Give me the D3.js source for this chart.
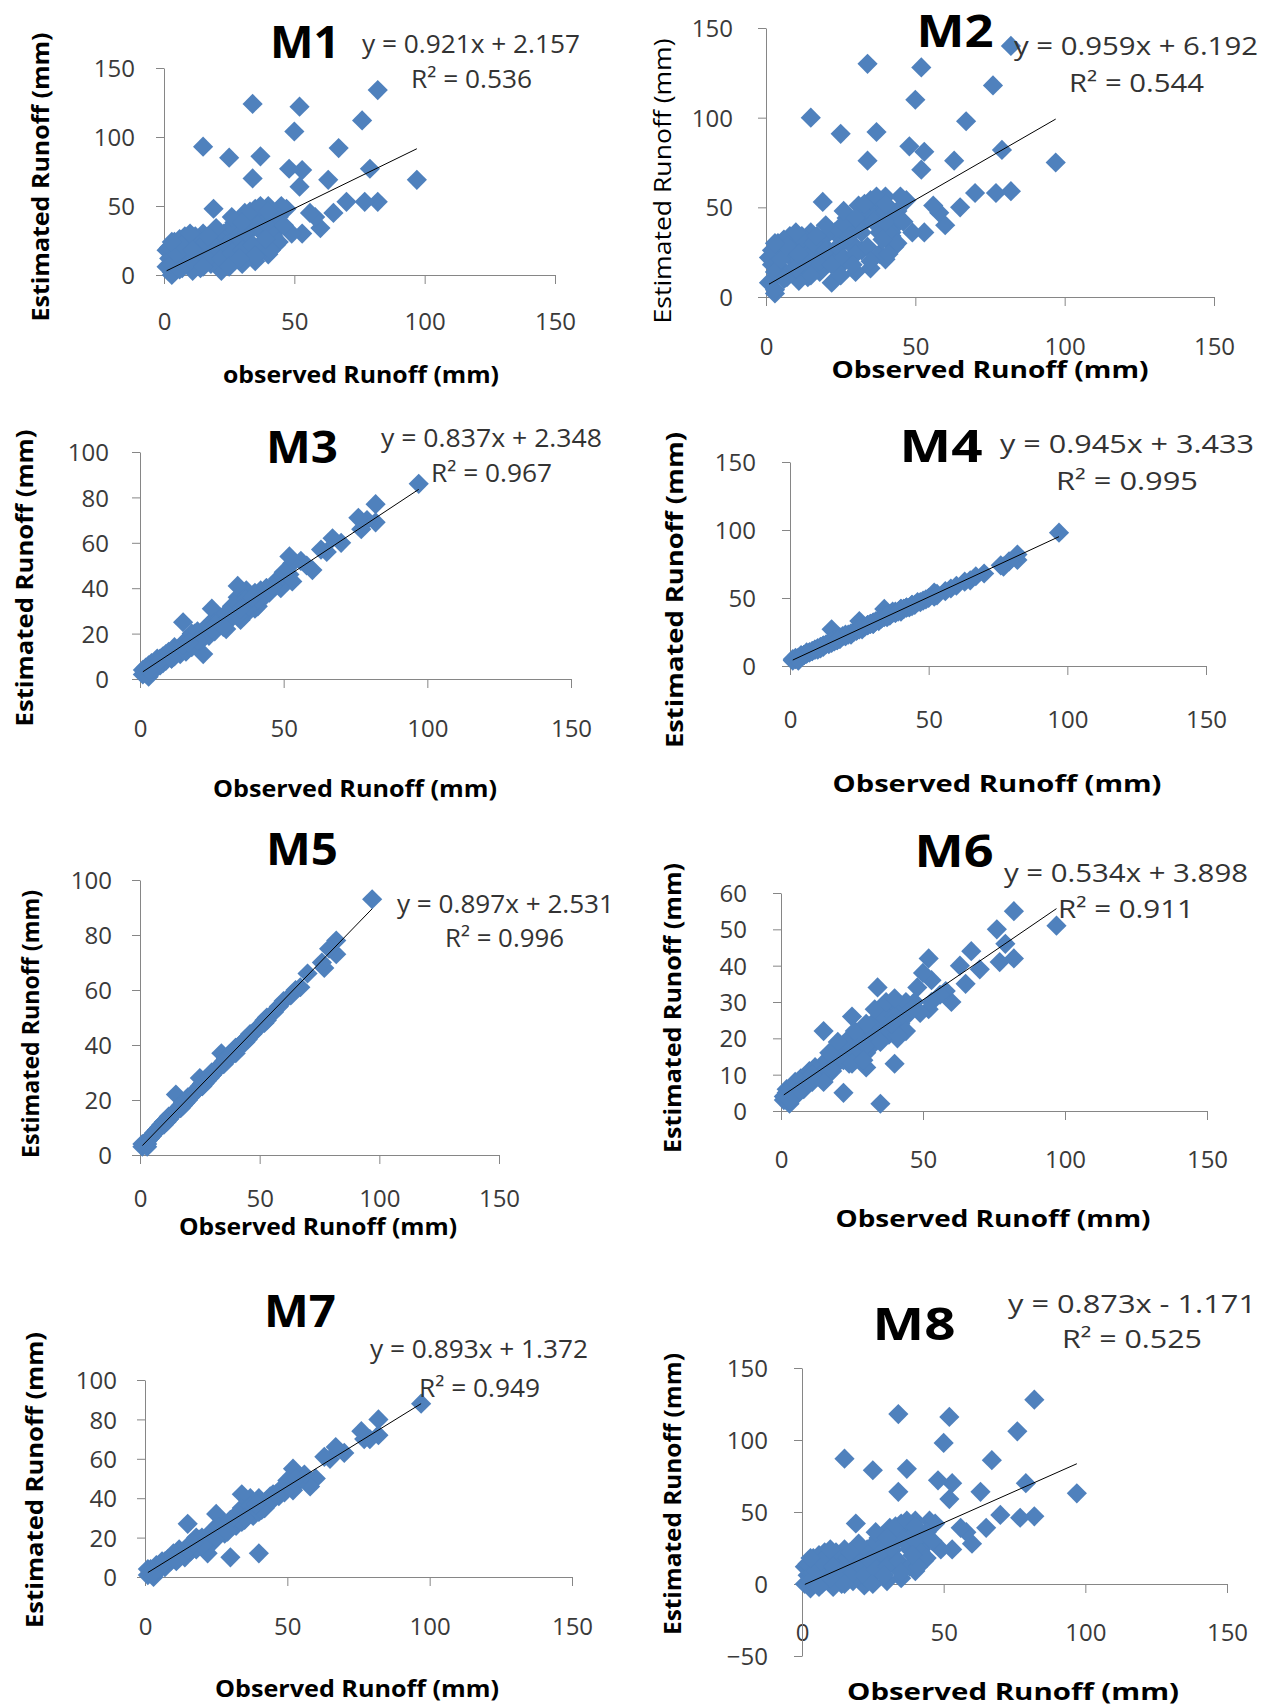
<!DOCTYPE html>
<html>
<head>
<meta charset="utf-8">
<script src="https://cdn.jsdelivr.net/npm/d3@7"></script>
<style>
    body { margin: 0; background: #fff; }
    svg text { font-family: 'Open Sans', 'Noto Sans', sans-serif; }
</style>
</head>
<body>
<div class="chart-container"></div>
<script>
// observed runoff (mm), shared by all eight models
const observed = [97, 82, 82, 79, 77, 76, 70, 67, 65, 63, 60, 58, 56, 53, 52, 52, 50, 48, 53, 49,
    47, 45, 43, 42, 40, 40, 38, 37, 36, 35, 34, 34, 33, 32, 31, 30, 29, 28, 27, 26,
    25, 24, 23, 22, 21, 20, 19, 18, 17, 15, 15, 14, 13, 12, 11, 10, 9, 8, 7, 6,
    5, 4, 3, 2, 1, 1, 3, 38, 44, 26, 35, 41, 30, 16, 8, 5,
    2, 4, 6, 9, 12, 18, 24, 28, 32, 36, 40, 42,
    3, 5, 7, 10, 12, 14, 16, 18, 20, 22, 24, 26, 28, 30, 32, 34, 36, 38, 40, 42,
    44, 33, 37, 40, 44, 26, 20, 10, 6, 15, 25, 35, 41, 30, 46, 29, 39, 17, 11, 3];

// estimated runoff (mm) per model, same order as observed
const estM1 = [69, 134, 53, 77, 53, 112, 53, 92, 45, 69, 34, 42, 45, 76, 122, 64, 104, 77, 30, 30,
    48, 50, 22, 40, 50, 15, 30, 86, 45, 10, 124, 70, 40, 20, 45, 8, 30, 15, 38, 25,
    85, 10, 30, 3, 20, 28, 48, 8, 18, 93, 30, 5, 22, 12, 3, 25, 15, 28, 5, 18,
    10, 24, 2, 12, 6, 18, 0, 40, 35, 35, 48, 25, 22, 12, 8, 20,
    20, 14, 26, 22, 28, 26, 18, 24, 34, 38, 42, 30,
    8, 15, 22, 10, 26, 16, 24, 14, 20, 12, 22, 16, 28, 18, 30, 22, 36, 18, 36, 28,
    42, 46, 50, 46, 24, 42, 34, 30, 4, 6, 6, 14, 18, 38, 36, 12, 26, 28, 18, 24];
const estM2 = [75, 140, 59, 82, 58, 118, 58, 98, 50, 76, 40, 47, 51, 81, 128, 71, 110, 84, 36, 36,
    54, 56, 28, 46, 56, 21, 36, 92, 51, 16, 130, 76, 46, 26, 51, 14, 36, 21, 44, 31,
    91, 16, 36, 8, 26, 34, 53, 14, 24, 100, 36, 11, 28, 18, 9, 31, 21, 34, 11, 24,
    16, 30, 2, 18, 8, 22, 4, 46, 41, 41, 54, 31, 28, 18, 14, 26,
    26, 20, 32, 28, 34, 32, 24, 30, 40, 44, 48, 36,
    14, 21, 28, 16, 32, 22, 30, 20, 26, 18, 28, 22, 34, 24, 36, 28, 42, 24, 42, 34,
    48, 52, 56, 52, 30, 48, 40, 36, 10, 12, 12, 20, 24, 44, 42, 18, 32, 34, 24, 30];
const estM3 = [86, 77, 69, 70, 66, 71, 60, 62, 56, 57, 48, 50, 52, 51, 54, 46, 47, 44, 43, 40,
    42, 38, 36, 35, 36, 31, 30, 39, 33, 26, 41, 36, 30, 27, 29, 22, 26, 24, 25, 22,
    31, 19, 21, 11, 17, 18, 20, 15, 16, 25, 14, 11, 13, 10, 9, 11, 8, 10, 6, 8,
    5, 6, 3, 4, 2, 4, 1, 35, 40, 25, 34, 32, 27, 12, 7, 4,
    5, 7, 9, 11, 13, 20, 24, 26, 32, 35, 38, 39,
    6, 5, 9, 10, 14, 12, 17, 14, 21, 18, 24, 21, 27, 26, 31, 28, 34, 32, 37, 36,
    40, 33, 35, 34, 38, 24, 17, 12, 7, 15, 22, 31, 35, 29, 41, 23, 36, 16, 9, 4];
const estM4 = [98, 82, 78, 77, 73, 74, 68, 66, 63, 62, 59, 57, 55, 53, 54, 51, 50, 48, 52, 49,
    47, 45, 43, 43, 41, 40, 39, 40, 37, 36, 42, 37, 35, 33, 33, 31, 31, 30, 29, 28,
    33, 26, 25, 23, 23, 22, 22, 20, 19, 27, 17, 16, 16, 14, 13, 13, 12, 11, 10, 9,
    8, 7, 6, 5, 4, 5, 4, 40, 45, 28, 37, 42, 32, 18, 11, 8,
    6, 8, 10, 12, 15, 21, 27, 30, 34, 38, 42, 43,
    6, 8, 10, 13, 15, 17, 19, 20, 23, 24, 26, 28, 30, 32, 34, 36, 38, 39, 41, 43,
    45, 35, 39, 42, 44, 27, 22, 12, 9, 18, 27, 37, 42, 31, 47, 31, 40, 19, 14, 5];
const estM5 = [93, 78, 73, 75, 68, 70, 66, 61, 60, 58, 56, 54, 52, 50, 49, 48, 47, 45, 49, 46,
    44, 42, 41, 40, 38, 37, 36, 35, 35, 33, 37, 33, 32, 31, 30, 29, 28, 27, 26, 25,
    28, 24, 23, 22, 21, 20, 19, 18, 17, 22, 16, 15, 14, 13, 12, 12, 11, 10, 9, 8,
    7, 6, 5, 4, 3, 4, 3, 37, 42, 26, 34, 39, 30, 17, 10, 7,
    4, 6, 8, 11, 14, 19, 24, 28, 31, 35, 39, 40,
    5, 7, 9, 11, 13, 15, 17, 19, 21, 22, 24, 26, 28, 29, 31, 33, 35, 37, 38, 40,
    42, 32, 36, 39, 41, 25, 20, 12, 8, 16, 25, 34, 39, 30, 44, 28, 37, 18, 12, 4];
const estM6 = [51, 55, 42, 46, 41, 50, 39, 44, 35, 40, 30, 33, 32, 36, 42, 28, 38, 34, 30, 27,
    30, 28, 22, 25, 27, 13, 21, 29, 26, 2, 34, 24, 22, 18, 23, 12, 19, 16, 20, 15,
    26, 13, 16, 5, 14, 15, 17, 11, 13, 22, 12, 9, 11, 10, 8, 10, 8, 9, 6, 7,
    5, 6, 4, 5, 3, 4, 2, 25, 26, 18, 22, 20, 16, 10, 6, 4,
    6, 7, 8, 9, 12, 16, 20, 21, 24, 27, 25, 29,
    6, 8, 9, 11, 12, 10, 14, 12, 15, 14, 18, 17, 20, 18, 22, 20, 26, 22, 26, 24,
    30, 28, 30, 31, 22, 22, 19, 8, 5, 8, 13, 19, 21, 24, 28, 14, 24, 16, 10, 3];
const estM7 = [88, 80, 72, 70, 70, 74, 63, 66, 60, 61, 50, 46, 52, 47, 55, 44, 49, 45, 50, 43,
    41, 42, 37, 35, 38, 12, 33, 40, 33, 29, 42, 35, 28, 26, 29, 10, 26, 22, 25, 22,
    32, 18, 20, 12, 17, 18, 19, 14, 15, 27, 13, 10, 12, 10, 8, 11, 8, 9, 5, 7,
    4, 5, 2, 3, 1, 4, 0, 34, 40, 24, 32, 37, 26, 13, 7, 4,
    4, 6, 8, 10, 14, 20, 24, 27, 31, 35, 40, 38,
    4, 6, 8, 10, 13, 12, 17, 15, 20, 19, 23, 22, 27, 26, 30, 28, 34, 31, 37, 35,
    41, 33, 36, 33, 38, 25, 16, 12, 6, 14, 20, 30, 34, 29, 42, 23, 37, 17, 9, 2];
const estM8 = [63, 128, 47, 70, 46, 106, 48, 86, 39, 64, 28, 36, 39, 70, 116, 59, 98, 72, 24, 24,
    42, 44, 16, 34, 44, 9, 24, 80, 39, 4, 118, 64, 34, 14, 39, 2, 24, 9, 32, 19,
    79, 4, 24, -1, 14, 22, 42, 2, 12, 87, 24, 0, 16, 6, -2, 19, 9, 22, 0, 12,
    4, 18, -2, 6, 0, 12, -3, 34, 29, 29, 42, 19, 16, 6, 2, 14,
    14, 8, 20, 16, 22, 20, 12, 18, 28, 32, 36, 24,
    2, 9, 16, 4, 20, 10, 18, 8, 14, 6, 16, 10, 22, 12, 24, 16, 30, 12, 30, 22,
    36, 40, 44, 40, 18, 36, 28, 24, -2, 0, 0, 8, 12, 32, 30, 6, 20, 22, 12, 18];

const modelNames = ['M1', 'M2', 'M3', 'M4', 'M5', 'M6', 'M7', 'M8'];
const slopes = [0.921, 0.959, 0.837, 0.945, 0.897, 0.534, 0.893, 0.873];
const intercepts = [2.157, 6.192, 2.348, 3.433, 2.531, 3.898, 1.372, -1.171];
const equationLabels = ['y = 0.921x + 2.157', 'y = 0.959x + 6.192', 'y = 0.837x + 2.348', 'y = 0.945x + 3.433',
    'y = 0.897x + 2.531', 'y = 0.534x + 3.898', 'y = 0.893x + 1.372', 'y = 0.873x - 1.171'];
const rSquaredLabels = ['R² = 0.536', 'R² = 0.544', 'R² = 0.967', 'R² = 0.995',
    'R² = 0.996', 'R² = 0.911', 'R² = 0.949', 'R² = 0.525'];

// tick labels
const xTicks = [0, 50, 100, 150];
const yTicks150 = [0, 50, 100, 150];
const yTicks100 = [0, 20, 40, 60, 80, 100];
const yTicks60 = [0, 10, 20, 30, 40, 50, 60];
const yTicksM8 = [-50, 0, 50, 100, 150];

const xTitles = ['observed Runoff (mm)', 'Observed Runoff (mm)', 'Observed Runoff (mm)', 'Observed Runoff (mm)',
    'Observed Runoff (mm)', 'Observed Runoff (mm)', 'Observed Runoff (mm)', 'Observed Runoff (mm)'];
const yTitle = 'Estimated Runoff (mm)';

const estimates = [estM1, estM2, estM3, estM4, estM5, estM6, estM7, estM8];
const yTickSets = [yTicks150, yTicks150, yTicks100, yTicks150, yTicks100, yTicks60, yTicks100, yTicksM8];

// layout of each panel on the page (pixels)
const layout = [
    { x0: 164, x1: 555, yb: 275, yt: 68, title: [305, 58, 70], eq: [362, 53, 218], r2: [411, 88, 121],
      xt: [361, 383, 276], yt2: [40, 177, 289], xDy: 55, yDx: 29, yBold: true },
    { x0: 766, x1: 1214, yb: 297, yt: 28, title: [955, 47, 77], eq: [1014, 55, 244], r2: [1069, 92, 135],
      xt: [990, 378, 317], yt2: [662, 181, 285], xDy: 58, yDx: 33, yBold: false },
    { x0: 140, x1: 571, yb: 679, yt: 452, title: [302, 463, 72], eq: [381, 447, 221], r2: [431, 482, 121],
      xt: [355, 797, 284], yt2: [24, 578, 297], xDy: 58, yDx: 31, yBold: true },
    { x0: 790, x1: 1206, yb: 666, yt: 462, title: [941, 462, 83], eq: [1000, 453, 254], r2: [1056, 490, 142],
      xt: [997, 792, 329], yt2: [674, 590, 316], xDy: 62, yDx: 34, yBold: true },
    { x0: 140, x1: 499, yb: 1155, yt: 880, title: [302, 865, 72], eq: [397, 913, 217], r2: [445, 947, 119],
      xt: [318, 1235, 278], yt2: [30, 1024, 268], xDy: 52, yDx: 28, yBold: true },
    { x0: 781, x1: 1207, yb: 1111, yt: 893, title: [954, 867, 79], eq: [1004, 882, 244], r2: [1058, 918, 136],
      xt: [993, 1227, 315], yt2: [672, 1008, 290], xDy: 57, yDx: 34, yBold: true },
    { x0: 145, x1: 572, yb: 1577, yt: 1380, title: [300, 1327, 72], eq: [370, 1358, 218], r2: [419, 1397, 121],
      xt: [357, 1697, 284], yt2: [34, 1480, 296], xDy: 58, yDx: 28, yBold: true },
    { x0: 802, x1: 1227, yb: 1656, yt: 1368, title: [914, 1340, 83], eq: [1008, 1313, 248], r2: [1062, 1348, 140],
      xt: [1013, 1700, 332], yt2: [672, 1494, 282], xDy: 57, yDx: 34, yBold: true }
];

const axisColor = '#868686';
const markerColor = '#4f81bd';

const svg = d3.select('.chart-container')
    .append('svg')
    .attr('width', 1271)
    .attr('height', 1706);

function drawPanel(p, i) {
    const est = estimates[i];
    const yTicks = yTickSets[i];

    const xScale = d3.scaleLinear().domain([0, 150]).range([p.x0, p.x1]);
    const yScale = d3.scaleLinear().domain(d3.extent(yTicks)).range([p.yb, p.yt]);

    const g = svg.append('g').attr('class', 'panel');

    // axes
    const xAxis = d3.axisBottom(xScale).tickValues(xTicks).tickSizeInner(9).tickSizeOuter(0);
    const xAxisDraw = g.append('g')
        .attr('transform', `translate(0, ${yScale(0)})`)
        .call(xAxis);
    xAxisDraw.selectAll('text').attr('y', p.xDy).attr('dy', null);

    const yAxis = d3.axisLeft(yScale).tickValues(yTicks).tickSizeInner(8).tickSizeOuter(0);
    const yAxisDraw = g.append('g')
        .attr('transform', `translate(${p.x0}, 0)`)
        .call(yAxis);
    yAxisDraw.selectAll('text').attr('x', -p.yDx).attr('dy', '0.36em');

    [xAxisDraw, yAxisDraw].forEach(a => {
        a.attr('font-family', null).attr('font-size', 24);
        a.select('.domain').attr('stroke', axisColor);
        a.selectAll('.tick line').attr('stroke', axisColor);
        a.selectAll('.tick text').attr('fill', '#3a3a3a');
    });

    // points
    g.append('g')
        .selectAll('path')
        .data(observed.map((o, j) => ({ obs: o, est: est[j] })))
        .join('path')
        .attr('transform', d => `translate(${xScale(d.obs)}, ${yScale(d.est)})`)
        .attr('d', d3.symbol(d3.symbolDiamond2, 260))
        .attr('fill', markerColor);

    // linear trendline
    const xExt = d3.extent(observed);
    g.append('line')
        .attr('x1', xScale(xExt[0]))
        .attr('y1', yScale(slopes[i] * xExt[0] + intercepts[i]))
        .attr('x2', xScale(xExt[1]))
        .attr('y2', yScale(slopes[i] * xExt[1] + intercepts[i]))
        .attr('stroke', '#000')
        .attr('stroke-width', 1);

    // header + equation
    g.append('text')
        .attr('x', p.title[0]).attr('y', p.title[1])
        .attr('text-anchor', 'middle')
        .attr('font-size', 44).attr('font-weight', 'bold')
        .attr('textLength', p.title[2]).attr('lengthAdjust', 'spacingAndGlyphs')
        .text(modelNames[i]);

    g.append('text')
        .attr('x', p.eq[0]).attr('y', p.eq[1])
        .attr('font-size', 25).attr('fill', '#333')
        .attr('textLength', p.eq[2]).attr('lengthAdjust', 'spacingAndGlyphs')
        .text(equationLabels[i]);

    g.append('text')
        .attr('x', p.r2[0]).attr('y', p.r2[1])
        .attr('font-size', 25).attr('fill', '#333')
        .attr('textLength', p.r2[2]).attr('lengthAdjust', 'spacingAndGlyphs')
        .text(rSquaredLabels[i]);

    // axis titles
    g.append('text')
        .attr('x', p.xt[0]).attr('y', p.xt[1])
        .attr('text-anchor', 'middle')
        .attr('font-size', 24).attr('font-weight', 'bold')
        .attr('textLength', p.xt[2]).attr('lengthAdjust', 'spacingAndGlyphs')
        .text(xTitles[i]);

    g.append('text')
        .attr('transform', `translate(${p.yt2[0]}, ${p.yt2[1]}) rotate(-90)`)
        .attr('text-anchor', 'middle')
        .attr('dy', '0.36em')
        .attr('font-size', 24).attr('font-weight', p.yBold ? 'bold' : 'normal')
        .attr('textLength', p.yt2[2]).attr('lengthAdjust', 'spacingAndGlyphs')
        .text(yTitle);
}

layout.forEach(drawPanel);
</script>
</body>
</html>
